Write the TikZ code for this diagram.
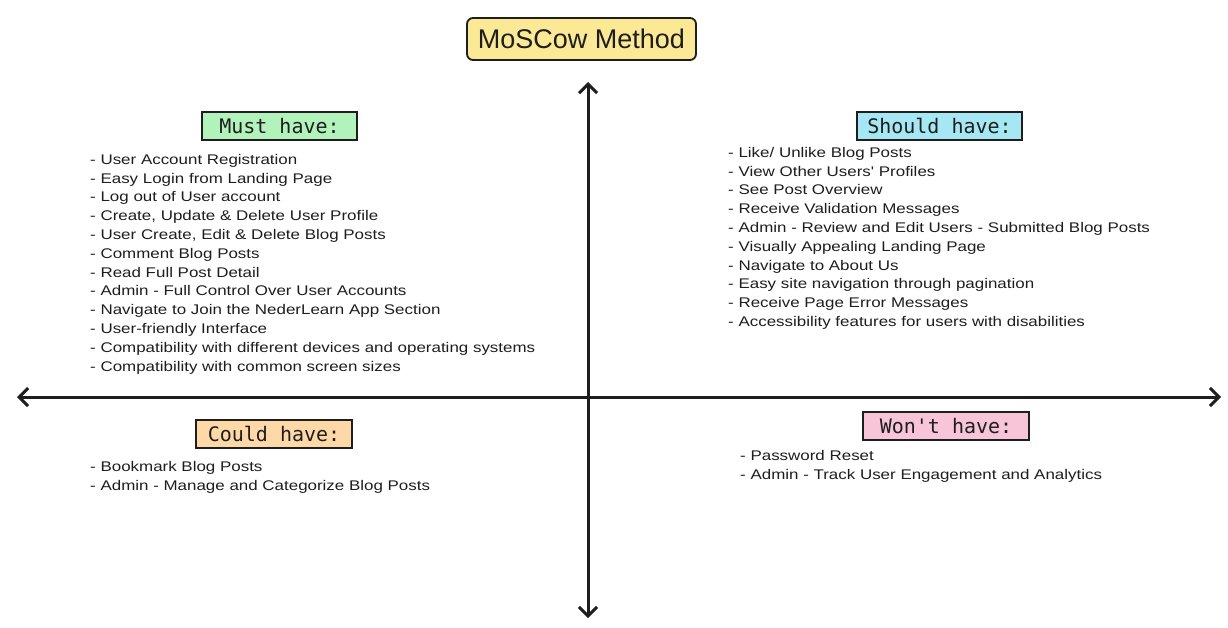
\documentclass[tikz,border=0pt]{standalone}
\usepackage{fontspec}
\setmainfont{Liberation Sans}
\newfontfamily\labelfont{DejaVu Sans Mono}
\newfontfamily\listfont[FakeStretch=1.21]{Liberation Sans}
\usetikzlibrary{arrows.meta}
\definecolor{ink}{HTML}{1E1E1E}
\definecolor{titleyellow}{HTML}{FCE996}
\definecolor{mustgreen}{HTML}{B2F2BB}
\definecolor{shouldcyan}{HTML}{A5E7F2}
\definecolor{couldorange}{HTML}{FFD8A8}
\definecolor{wontpink}{HTML}{F8C4D8}
\begin{document}
\begin{tikzpicture}[x=1pt,y=-1pt,
  titlebox/.style={draw=ink, line width=1.8pt, rounded corners=6pt, fill=titleyellow, inner sep=0pt,
    minimum width=229pt, minimum height=42pt, text=ink, font=\fontsize{27}{30}\selectfont},
  catbox/.style={draw=ink, line width=2.5pt, inner sep=0pt, minimum height=28pt, text=ink,
    font=\labelfont\fontsize{20}{22}\selectfont},
  itemlist/.style={anchor=north west, inner sep=0pt, align=left, text=ink,
    font=\listfont\fontsize{14}{18.8}\selectfont},
  axisline/.style={draw=ink, line width=3pt,
    {Straight Barb[length=9pt,width=18pt,line width=3pt]}-{Straight Barb[length=9pt,width=18pt,line width=3pt]}}
]
\useasboundingbox[fill=white] (0,0) rectangle (1228,627);

\coordinate (vtop) at (588,82);
\coordinate (vbot) at (588,618);
\coordinate (hleft) at (17,397);
\coordinate (hright) at (1221,397);
\draw[axisline] (vtop) -- (vbot);
\draw[axisline] (hleft) -- (hright);

\node[titlebox] (title) at (581.5,39) {MoSCow Method};

\node[catbox, fill=mustgreen, minimum width=155pt] (must) at (279.5,126) {Must have:};
\node[catbox, fill=shouldcyan, minimum width=165pt] (should) at (939.5,126) {Should have:};
\node[catbox, fill=couldorange, minimum width=156pt] (could) at (274,434) {Could have:};
\node[catbox, fill=wontpink, minimum width=166pt] (wont) at (946,426) {Won't have:};

\node[itemlist] (mustlist) at (90,154) {%
- User Account Registration\\
- Easy Login from Landing Page\\
- Log out of User account\\
- Create, Update \& Delete User Profile\\
- User Create, Edit \& Delete Blog Posts\\
- Comment Blog Posts\\
- Read Full Post Detail\\
- Admin - Full Control Over User Accounts\\
- Navigate to Join the NederLearn App Section\\
- User-friendly Interface\\
- Compatibility with different devices and operating systems\\
- Compatibility with common screen sizes};

\node[itemlist] (shouldlist) at (728,147) {%
- Like/ Unlike Blog Posts\\
- View Other Users' Profiles\\
- See Post Overview\\
- Receive Validation Messages\\
- Admin - Review and Edit Users - Submitted Blog Posts\\
- Visually Appealing Landing Page\\
- Navigate to About Us\\
- Easy site navigation through pagination\\
- Receive Page Error Messages\\
- Accessibility features for users with disabilities};

\node[itemlist] (couldlist) at (90,461) {%
- Bookmark Blog Posts\\
- Admin - Manage and Categorize Blog Posts};

\node[itemlist] (wontlist) at (740,450) {%
- Password Reset\\
- Admin - Track User Engagement and Analytics};
\end{tikzpicture}
\end{document}
